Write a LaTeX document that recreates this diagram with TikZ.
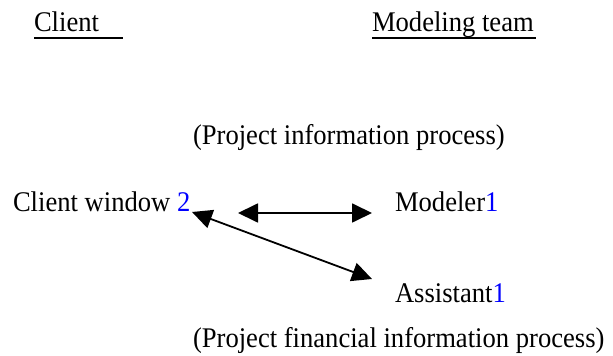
\documentclass[tikz,border=0pt]{standalone}
\usepackage{fontspec}
\usepackage{graphicx}
\setmainfont{Liberation Serif}
\usetikzlibrary{arrows.meta,calc}
\definecolor{numblue}{RGB}{0,0,255}
% Times-style text, set slightly taller than wide
\newcommand{\tallt}[1]{\scalebox{1}[1.07]{#1}}
\begin{document}
\begin{tikzpicture}[x=1pt,y=1pt,
  lbl/.style={anchor=base west,inner sep=0pt,outer sep=0pt,
    font=\fontsize{26.6}{30}\selectfont},
  uline/.style={line width=1.9pt},
  tip/.tip={Triangle[length=20pt,width=19pt]},
  link/.style={line width=1.8pt,tip-tip}]
\useasboundingbox (0,0) rectangle (613,356);

% column headings
\node[lbl] (client) at (34,324) {\tallt{Client}};
\node[lbl] (team) at (372,324) {\tallt{Modeling team}};
\draw[uline] ($(client.base west)+(0,-6)$) -- ++(89,0);
\draw[uline] ($(team.base west)+(0,-6)$) -- ++(164,0);

% process labels
\node[lbl] (pinfo) at (193,211) {\tallt{(Project information process)}};
\node[lbl] (pfin) at (193,9) {\tallt{(Project financial information process)}};

% participants
\node[lbl] (cw) at (13,144) {\tallt{Client window \textcolor{numblue}{2}}};
\node[lbl] (mod) at (395,144) {\tallt{Modeler\textcolor{numblue}{1}}};
\node[lbl] (asst) at (395,53) {\tallt{Assistant\textcolor{numblue}{1}}};

% connector end points
\coordinate (hL) at (238,143);
\coordinate (hR) at (372,143);
\coordinate (dA) at (192,144);
\coordinate (dB) at (372,77);

\draw[link] (hL) -- (hR);
\draw[link] (dA) -- (dB);
\end{tikzpicture}
\end{document}
